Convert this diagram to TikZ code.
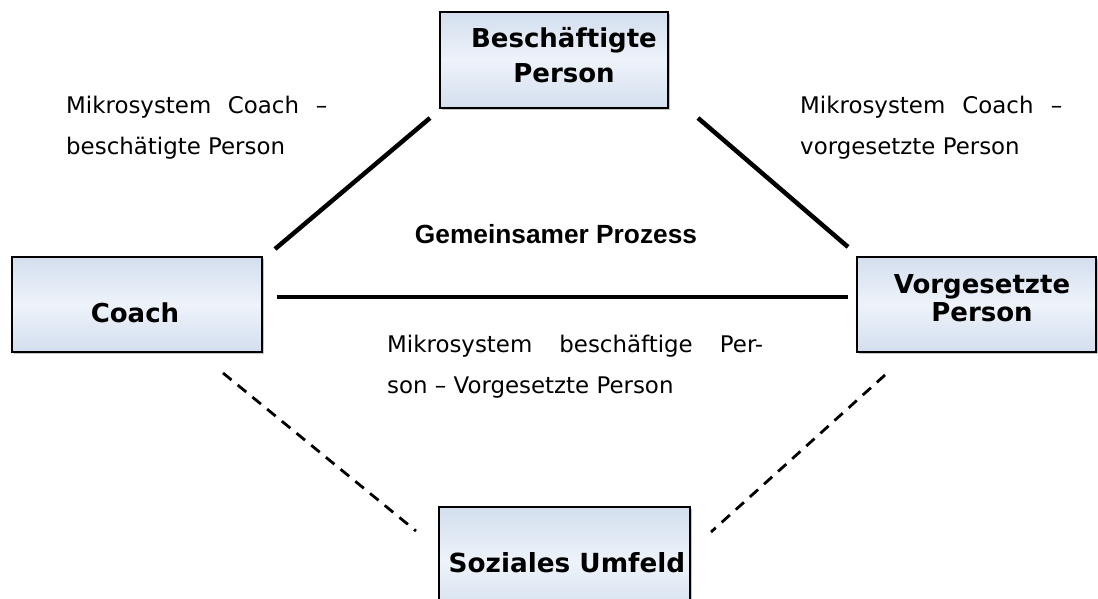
\documentclass[tikz,border=0pt]{standalone}
\usepackage{fontspec}
\setmainfont{DejaVu Sans}
\newfontfamily\arialfont{Liberation Sans}
\usetikzlibrary{shadows,calc}

% multi-line label whose baseline is that of its first line
\newcommand\zeilen[1]{\begin{tabular}[t]{@{}c@{}}#1\end{tabular}}
\newcommand\absatz[3]{\begin{tabular}[t]{@{}l@{}}\makebox[#1][s]{#2}\\#3\end{tabular}}

\begin{document}
\begin{tikzpicture}[x=1pt,y=-1pt,
  kasten/.style={draw=black, line width=1.8pt, inner sep=0pt,
    top color=boxblau, bottom color=boxblau, middle color=boxhell,
    drop shadow={shadow xshift=1.5pt, shadow yshift=-1.5pt, fill=black!45, opacity=0.5}},
  titel/.style={inner sep=0pt, anchor=base, font=\bfseries\fontsize{26}{35}\selectfont},
  fliesstext/.style={inner sep=0pt, anchor=base west, font=\fontsize{22.9}{41}\selectfont},
  beziehung/.style={line width=4.5pt},
  umfeld/.style={line width=2.8pt, dash pattern=on 11pt off 8pt}]
\definecolor{boxblau}{HTML}{D3DEEE}
\definecolor{boxhell}{HTML}{EEF3FA}

\useasboundingbox (0,0) rectangle (1098,598);
\clip (0,0) rectangle (1098,598);

% the four parties
\node[kasten, minimum width=228, minimum height=96] (B) at (554,60) {};
\node[kasten, minimum width=250, minimum height=95] (C) at (137,304.5) {};
\node[kasten, minimum width=239, minimum height=95] (V) at (976.5,304.5) {};
\node[kasten, minimum width=251, minimum height=110] (S) at (564.5,562) {};

\node[titel] (Bt) at (564,47) {\zeilen{Beschäftigte\\Person}};
\node[titel] (Ct) at (135,322) {Coach};
\node[titel, font=\bfseries\fontsize{26}{28.5}\selectfont] (Vt) at (982,293) {\zeilen{Vorgesetzte\\Person}};
\node[titel, font=\bfseries\fontsize{26.3}{30}\selectfont] (St) at (567,572) {Soziales Umfeld};

% relations
\coordinate (cb1) at (275,249);
\coordinate (cb2) at (430,118);
\coordinate (bv1) at (698,118);
\coordinate (bv2) at (848,247);
\coordinate (cv1) at (277,297);
\coordinate (cv2) at (848,297);
\coordinate (cs1) at (223,373);
\coordinate (cs2) at (416,531);
\coordinate (vs1) at (885,375);
\coordinate (vs2) at (711,532);

\draw[beziehung] (cb1) -- (cb2);
\draw[beziehung] (bv1) -- (bv2);
\draw[beziehung] (cv1) -- (cv2);
\draw[umfeld] (cs1) -- (cs2);
\draw[umfeld] (vs1) -- (vs2);

% labels of the relations
\node[inner sep=0pt, anchor=base, font=\arialfont\bfseries\fontsize{26.3}{30}\selectfont] (G) at (556,243) {Gemeinsamer Prozess};
\node[fliesstext] (mcb) at (66,113) {\absatz{261pt}{Mikrosystem Coach –}{beschätigte Person}};
\node[fliesstext] (mcv) at (800,113) {\absatz{262pt}{Mikrosystem Coach –}{vorgesetzte Person}};
\node[fliesstext] (mbv) at (387,352) {\absatz{376pt}{Mikrosystem beschäftige Per-}{son – Vorgesetzte Person}};
\end{tikzpicture}
\end{document}
